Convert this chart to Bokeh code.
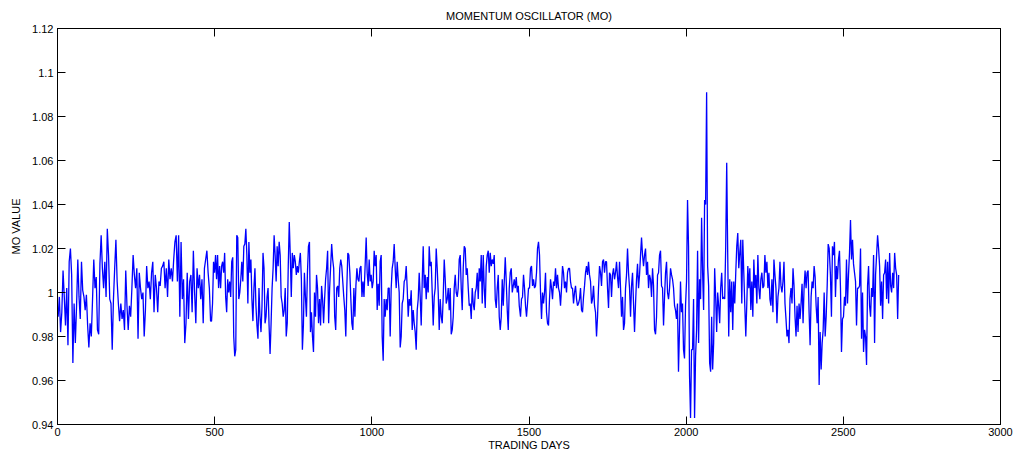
import numpy as np
from bokeh.plotting import figure
from bokeh.models import Range1d, FixedTicker, LinearAxis, NumeralTickFormatter
from bokeh.embed import file_html
from bokeh.resources import INLINE

# Momentum oscillator readings, split into consecutive stretches of trading days.
# Each stretch: (first day, last day) and its MO values in order.
SEG1_DAYS = (2, 487)
SEG1_MO = [
    0.989, 0.998, 0.982, 0.991, 1.010, 0.998, 0.985, 1.002, 0.976, 1.014, 1.020, 1.008, 0.968,
    0.995, 0.977, 0.994, 1.015, 0.998, 0.988, 1.014, 1.001, 0.998, 0.992, 0.999, 0.985, 0.975,
    0.986, 0.980, 0.997, 1.015, 1.002, 1.007, 0.983, 0.981, 1.013, 1.026, 1.011, 1.002, 1.014,
    0.998, 1.029, 1.017, 0.997, 0.995, 0.974, 0.997, 1.011, 1.024, 1.005, 0.995, 0.987, 0.995,
    0.988, 0.992, 0.983, 1.010, 0.994, 0.983, 0.994, 0.989, 1.002, 1.017, 1.008, 1.002, 1.011,
    0.979, 1.009, 1.002, 0.997, 1.000, 0.980, 0.992, 1.012, 1.002, 1.005, 0.997, 1.009, 1.014,
    0.991, 1.008, 1.002, 0.991, 1.005, 1.003, 1.011, 1.012, 1.014, 1.002, 1.011, 0.998, 1.015,
    1.006, 1.011, 1.005, 1.015, 1.023, 1.026, 1.005, 1.026, 0.989, 1.023, 0.997, 1.006, 0.977,
    0.986, 1.009, 0.988, 1.005, 1.008, 0.991, 1.019, 1.000, 0.986, 1.011, 1.002, 1.008, 0.997,
    1.006, 0.986, 1.011, 1.015, 1.019, 1.009, 1.002, 0.987,
]

SEG2_DAYS = (490, 975)
SEG2_MO = [
    0.987, 0.995, 1.014, 1.009, 1.017, 1.006, 1.017, 1.002, 1.012, 1.002, 1.012, 1.014, 1.009,
    1.018, 0.998, 0.991, 1.006, 1.000, 1.005, 0.998, 1.014, 1.016, 0.980, 0.971, 0.974, 1.026,
    1.025, 0.997, 1.000, 1.006, 1.014, 1.005, 1.021, 1.022, 1.029, 1.017, 0.995, 1.023, 1.009,
    1.015, 0.997, 0.987, 1.002, 1.011, 0.994, 0.985, 0.979, 1.002, 0.989, 0.982, 0.994, 1.018,
    1.011, 0.986, 0.989, 0.998, 1.002, 0.985, 0.972, 0.986, 1.002, 1.011, 1.026, 1.017, 1.005,
    1.021, 1.012, 1.023, 1.017, 0.998, 0.995, 0.989, 0.992, 1.002, 0.980, 0.986, 1.012, 1.032,
    1.017, 0.998, 1.018, 1.011, 1.017, 1.014, 1.008, 1.012, 1.009, 1.014, 1.018, 1.006, 0.974,
    0.985, 1.009, 0.998, 0.989, 1.009, 1.021, 1.023, 0.982, 0.991, 0.980, 0.973, 1.000, 0.989,
    1.008, 1.002, 0.986, 0.997, 0.985, 1.003, 0.997, 0.986, 0.997, 1.006, 1.011, 1.019, 0.986,
    1.002, 1.012, 1.022, 1.015, 1.011, 0.989, 0.983, 1.002, 1.003, 0.998, 1.011, 1.015, 1.012,
    1.005, 0.998, 0.992, 0.980, 1.002, 1.018, 1.017, 1.009, 0.997, 0.986, 0.983, 1.002, 0.989,
    1.003, 1.011, 1.006, 1.005, 1.011, 1.012, 0.998, 1.005, 0.998,
]

SEG3_DAYS = (982, 1469)
SEG3_MO = [
    1.025, 1.009, 1.003, 1.015, 1.005, 1.008, 1.002, 1.005, 1.019, 1.012, 1.017, 0.992, 1.004,
    0.994, 1.014, 1.017, 0.980, 0.969, 0.997, 0.989, 0.997, 0.992, 1.002, 1.002, 0.980, 1.002,
    1.011, 1.014, 1.022, 1.011, 1.002, 1.014, 1.006, 1.000, 0.975, 0.980, 0.995, 0.997, 1.005,
    1.006, 1.012, 1.002, 0.989, 0.997, 0.994, 1.001, 0.983, 0.992, 0.986, 0.982, 0.974, 0.992,
    0.997, 1.009, 0.998, 0.985, 1.005, 1.021, 1.002, 1.008, 0.997, 1.007, 1.000, 1.021, 1.012,
    1.014, 1.000, 0.985, 0.998, 1.002, 1.020, 1.011, 1.000, 0.983, 0.997, 0.989, 0.986, 0.998,
    1.015, 1.006, 0.995, 0.997, 1.002, 0.992, 1.002, 0.981, 0.983, 0.989, 1.002, 1.008, 1.000,
    0.998, 1.002, 1.015, 1.017, 1.002, 0.992, 1.011, 1.021, 1.020, 1.008, 1.011, 1.002, 0.994,
    0.995, 0.988, 1.002, 0.995, 0.992, 1.000, 1.002, 1.009, 0.997, 1.011, 1.005, 1.017, 0.995,
    1.017, 1.002, 0.993, 1.012, 1.017, 1.019, 1.009, 1.018, 1.012, 1.015, 1.013, 1.017, 0.997,
    0.993, 1.002, 1.008, 0.989, 0.983, 0.989, 1.006, 0.994, 1.005, 1.016, 1.005, 0.992, 0.983,
    1.002, 1.009, 1.011, 1.000, 1.003, 1.006, 1.002, 1.007, 1.000, 1.003, 0.994,
]

SEG4_DAYS = (1473, 1963)
SEG4_MO = [
    0.989, 0.997, 0.998, 1.008, 1.002, 0.994, 0.989, 0.995, 1.002, 1.002, 1.011, 1.012, 1.003,
    1.006, 1.002, 1.003, 1.009, 1.020, 1.023, 1.017, 1.000, 0.988, 1.000, 0.995, 1.000, 1.009,
    0.991, 0.986, 0.985, 0.997, 1.006, 1.002, 0.997, 1.005, 1.003, 1.011, 1.002, 1.008, 1.002,
    1.000, 0.994, 1.002, 1.012, 1.009, 1.002, 1.005, 1.000, 1.009, 1.011, 1.011, 1.005, 1.002,
    1.002, 0.995, 1.000, 1.003, 0.997, 0.994, 0.995, 0.997, 1.002, 0.992, 0.991, 0.998, 1.003,
    1.009, 1.012, 1.008, 1.014, 1.008, 1.005, 0.995, 0.997, 1.003, 0.994, 0.991, 0.980, 0.989,
    1.002, 1.012, 1.009, 1.003, 1.014, 1.015, 1.009, 1.014, 1.014, 1.002, 0.993, 1.009, 1.008,
    0.998, 1.008, 1.011, 1.006, 1.009, 1.014, 1.007, 1.002, 1.014, 1.002, 0.989, 0.998, 0.983,
    0.986, 1.002, 1.008, 1.020, 1.009, 1.002, 0.989, 1.003, 1.009, 0.995, 0.982, 0.995, 1.006,
    1.013, 1.002, 1.008, 1.017, 1.025, 1.017, 1.012, 1.017, 1.020, 1.008, 1.014, 1.002, 1.008,
    1.006, 0.998, 1.011, 1.003, 0.983, 0.981, 0.989, 1.008, 1.009, 1.017, 1.019, 1.003, 1.002,
    0.985, 0.998, 1.009, 1.014, 1.000, 0.997, 1.002, 1.011, 1.008, 1.006, 1.002, 0.994,
]

SEG5_DAYS = (1966, 2455)
SEG5_MO = [
    0.992, 0.988, 0.995, 0.964, 0.983, 1.005, 0.991, 0.995, 0.974, 0.970, 0.994, 1.005, 1.042,
    1.021, 0.962, 0.943, 0.974, 0.974, 0.997, 0.943, 0.971, 0.983, 1.019, 0.977, 1.006, 0.997,
    1.034, 1.009, 0.992, 1.042, 1.040, 1.091, 1.012, 1.003, 0.968, 0.964, 0.989, 0.965, 0.977,
    1.011, 0.998, 0.982, 1.000, 0.994, 0.986, 1.002, 1.009, 0.997, 0.998, 0.997, 1.021, 1.059,
    1.017, 0.980, 1.006, 0.991, 1.005, 0.983, 1.005, 0.995, 1.009, 1.021, 1.027, 1.011, 1.018,
    1.024, 0.995, 1.024, 1.009, 0.994, 0.980, 0.995, 1.012, 1.002, 1.011, 0.992, 1.005, 0.989,
    1.015, 1.002, 1.008, 0.995, 1.017, 1.002, 0.997, 1.006, 1.009, 1.002, 1.003, 1.017, 1.009,
    1.014, 1.002, 1.009, 0.997, 0.994, 1.006, 0.991, 1.015, 1.008, 1.002, 0.986, 0.998, 1.002,
    1.014, 1.003, 1.000, 1.005, 1.014, 0.995, 0.988, 0.980, 0.983, 0.977, 0.997, 1.002, 0.995,
    1.011, 1.003, 0.989, 0.980, 0.994, 0.982, 0.995, 0.988, 0.995, 1.004, 0.986, 1.002, 1.010,
    1.002, 1.009, 1.010, 0.991, 0.976, 0.998, 1.005, 1.002, 1.012, 1.007, 0.994, 0.986, 0.998,
    0.958, 0.982, 0.965, 0.977, 0.983, 1.000, 0.980, 0.989, 1.003, 1.022, 1.020,
]

SEG6_DAYS = (2459, 2676)
SEG6_MO = [
    1.008, 0.989, 1.021, 1.017, 1.023, 0.998, 1.012, 1.006, 1.015, 1.019, 1.002, 0.973, 0.988,
    0.989, 0.998, 0.994, 1.015, 0.995, 1.008, 1.018, 1.033, 1.015, 1.024, 1.013, 1.009, 1.005,
    0.985, 1.002, 1.002, 1.003, 1.020, 0.979, 1.000, 0.973, 0.983, 0.980, 0.967, 1.003, 1.012,
    0.994, 0.989, 1.002, 0.998, 1.017, 0.977, 1.008, 1.017, 1.026, 1.020, 1.012, 0.994, 1.005,
    0.988, 1.008, 1.009, 1.015, 0.997, 1.014, 0.995, 1.018, 1.003, 1.000, 1.009, 1.002, 1.018,
    1.011, 1.008, 0.988, 1.008,
]

SEGMENTS = [
    (SEG1_DAYS, SEG1_MO), (SEG2_DAYS, SEG2_MO), (SEG3_DAYS, SEG3_MO),
    (SEG4_DAYS, SEG4_MO), (SEG5_DAYS, SEG5_MO), (SEG6_DAYS, SEG6_MO),
]

X_TICKS = [0, 500, 1000, 1500, 2000, 2500, 3000]
Y_TICKS = [0.94, 0.96, 0.98, 1.0, 1.02, 1.04, 1.06, 1.08, 1.1, 1.12]

days = np.concatenate([np.linspace(d0, d1, len(v)) for (d0, d1), v in SEGMENTS])
mo = np.concatenate([np.asarray(v, dtype=float) for _, v in SEGMENTS])

FONT = "Liberation Sans"
FS = "11px"

p = figure(
    width=1016, height=453, output_backend="svg", toolbar_location=None,
    x_range=Range1d(0, 3000), y_range=Range1d(0.94, 1.12),
    min_border_left=57, min_border_right=16, min_border_top=28, min_border_bottom=27,
    title="MOMENTUM OSCILLATOR (MO)",
)
p.background_fill_color = "white"
p.border_fill_color = "white"
p.outline_line_color = "black"
p.outline_line_width = 1
p.xgrid.visible = False
p.ygrid.visible = False

p.title.align = "center"
p.title.text_font = FONT
p.title.text_font_size = FS
p.title.text_font_style = "normal"
p.title.text_color = "black"
p.title.standoff = 13

p.line(days, mo, line_color="#0000ff", line_width=1.3)

xa = p.xaxis[0]
xa.ticker = FixedTicker(ticks=X_TICKS)
xa.axis_label = "TRADING DAYS"
ya = p.yaxis[0]
ya.ticker = FixedTicker(ticks=Y_TICKS)
ya.formatter = NumeralTickFormatter(format="0.[00]")
ya.axis_label = "MO VALUE"

for ax in (xa, ya):
    ax.major_tick_in = 8
    ax.major_tick_out = 0
    ax.minor_tick_in = 0
    ax.minor_tick_out = 0
    ax.axis_line_color = "black"
    ax.major_tick_line_color = "black"
    ax.major_label_text_font = FONT
    ax.major_label_text_font_size = FS
    ax.major_label_text_color = "black"
    ax.axis_label_text_font = FONT
    ax.axis_label_text_font_size = FS
    ax.axis_label_text_font_style = "normal"
    ax.axis_label_text_color = "black"

xa.major_label_standoff = 3
xa.axis_label_standoff = 0
ya.major_label_standoff = 4
ya.axis_label_standoff = 7

# mirrored tick marks on the top and right edges of the box, without labels
top = LinearAxis(ticker=FixedTicker(ticks=X_TICKS))
right = LinearAxis(ticker=FixedTicker(ticks=Y_TICKS))
top.major_label_overrides = {t: "" for t in X_TICKS}
right.major_label_overrides = {t: "" for t in Y_TICKS}
for ax in (top, right):
    ax.major_tick_in = 8
    ax.major_tick_out = 0
    ax.minor_tick_in = 0
    ax.minor_tick_out = 0
    ax.major_label_standoff = 0
    ax.major_label_text_font_size = FS
    ax.axis_line_color = "black"
    ax.major_tick_line_color = "black"
p.add_layout(top, "above")
p.add_layout(right, "right")

open("out.html", "w").write(file_html(p, INLINE))
